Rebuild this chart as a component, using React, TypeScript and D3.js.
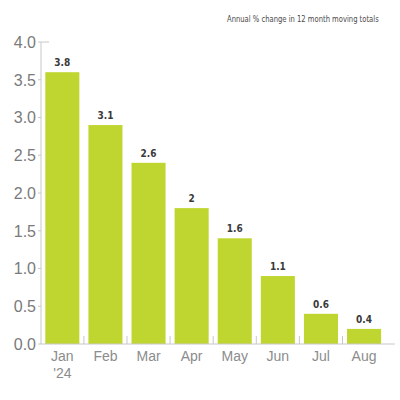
import React, { useLayoutEffect, useRef, useState } from "react";
import * as d3 from "d3";

const months = ["Jan", "Feb", "Mar", "Apr", "May", "Jun", "Jul", "Aug"];
const yearLabels = ["'24", "", "", "", "", "", "", ""];
const barValues = [3.6, 2.9, 2.4, 1.8, 1.4, 0.9, 0.4, 0.2];
const valueLabels = ["3.8", "3.1", "2.6", "2", "1.6", "1.1", "0.6", "0.4"];
const yTicks = [0, 0.5, 1.0, 1.5, 2.0, 2.5, 3.0, 3.5, 4.0];
const title = "Annual % change in 12 month moving totals";

const W = 400;
const H = 400;
const left = 41;
const right = 385.4;
const top = 42;
const bottom = 344;
const titleLeft = 227;
const titleWidth = 152;

export default function App() {
  const titleRef = useRef<SVGTextElement>(null);
  const [sx, setSx] = useState(1);
  useLayoutEffect(() => {
    if (titleRef.current) {
      const w = titleRef.current.getComputedTextLength();
      if (w > 0) setSx(titleWidth / w);
    }
  }, []);

  const x = d3
    .scaleBand<string>()
    .domain(months)
    .range([left, right])
    .paddingInner(0.21)
    .paddingOuter(0.1);
  const y = d3.scaleLinear().domain([0, 4]).range([bottom, top]);
  const fmt = d3.format(".1f");
  const step = x.step();
  const gap = step * 0.21;

  return (
    <svg
      width={W}
      height={H}
      style={{ position: "absolute", left: 0, top: 0, display: "block", background: "#fff" }}
    >
      <g transform={`translate(${titleLeft},21.5) scale(${sx},1)`}>
        <text
          ref={titleRef}
          x={0}
          y={0}
          textAnchor="start"
          fontFamily="'DejaVu Sans Condensed', 'Liberation Sans Narrow', sans-serif"
          fontSize={9.5}
          fill="#4a4a4a"
        >
          {title}
        </text>
      </g>

      {/* y axis */}
      <line x1={left} x2={left} y1={y(4)} y2={y(0)} stroke="#c8c8c8" strokeWidth={1} />
      <line x1={left} x2={left + 8} y1={y(4)} y2={y(4)} stroke="#c8c8c8" strokeWidth={1} />
      {yTicks.map((t) => (
        <g key={t}>
          <line x1={left - 3} x2={left} y1={y(t)} y2={y(t)} stroke="#c8c8c8" strokeWidth={1} />
          <text
            x={36}
            y={y(t)}
            dy="0.36em"
            textAnchor="end"
            fontFamily="'Liberation Sans', Arial, sans-serif"
            fontSize={16}
            fill="#7a7a7a"
          >
            {fmt(t)}
          </text>
        </g>
      ))}

      {/* bars */}
      {months.map((m, i) => (
        <rect
          key={m}
          x={x(m)}
          y={y(barValues[i])}
          width={x.bandwidth()}
          height={y(0) - y(barValues[i])}
          fill="#c0d630"
        />
      ))}

      {/* value labels */}
      {months.map((m, i) => (
        <text
          key={m + "v"}
          x={(x(m) as number) + x.bandwidth() / 2}
          y={y(barValues[i]) - 6}
          textAnchor="middle"
          fontFamily="'DejaVu Sans Condensed', 'Liberation Sans Narrow', sans-serif"
          fontSize={10}
          fontWeight={600}
          fill="#3a3a3a"
        >
          {valueLabels[i]}
        </text>
      ))}

      {/* x axis */}
      <line x1={left} x2={395} y1={y(0)} y2={y(0)} stroke="#c8c8c8" strokeWidth={1} />
      {months.slice(1).map((m) => {
        const tx = (x(m) as number) - gap / 2;
        return <line key={m + "t"} x1={tx} x2={tx} y1={y(0) - 8} y2={y(0)} stroke="#c8c8c8" strokeWidth={1} />;
      })}
      {months.map((m, i) => {
        const cx = (x(m) as number) + x.bandwidth() / 2;
        return (
          <text
            key={m + "l"}
            x={cx}
            y={361}
            textAnchor="middle"
            fontFamily="'Liberation Sans', Arial, sans-serif"
            fontSize={14}
            fill="#8c8c8c"
          >
            <tspan x={cx}>{m}</tspan>
            {yearLabels[i] ? (
              <tspan x={cx} dy={17}>
                {yearLabels[i]}
              </tspan>
            ) : null}
          </text>
        );
      })}
    </svg>
  );
}
